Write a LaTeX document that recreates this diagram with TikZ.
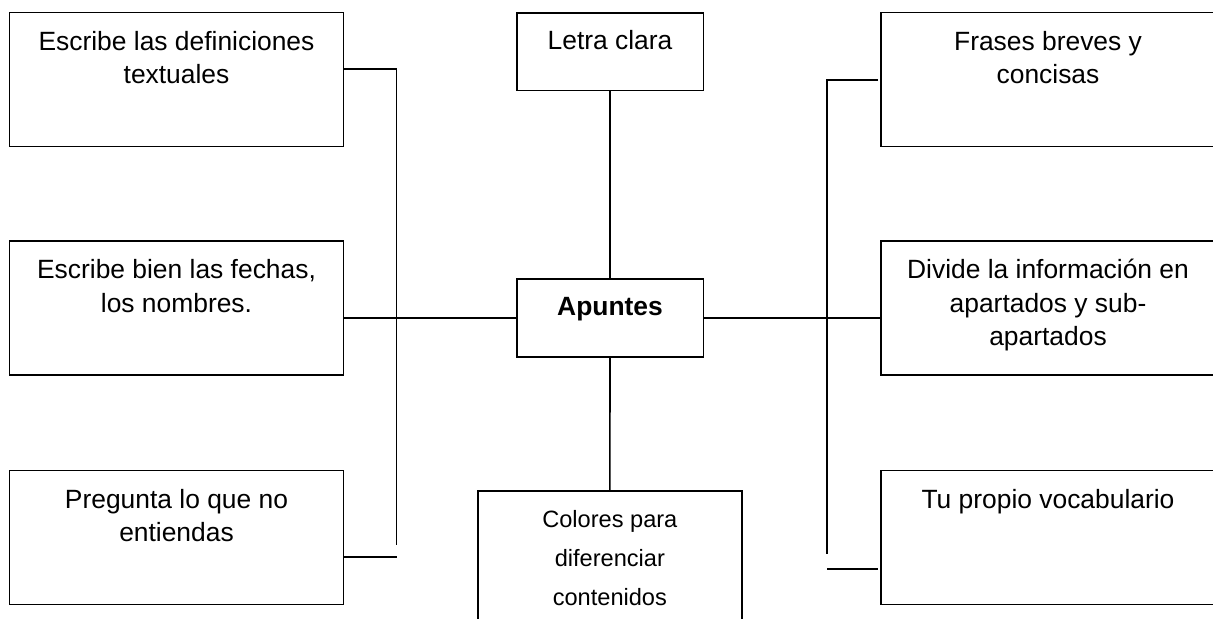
\documentclass[tikz,border=0pt]{standalone}
\usepackage{fontspec}
\setmainfont{Liberation Sans}
\begin{document}
\begin{tikzpicture}[x=0.5pt,y=-0.5pt,
  box/.style={draw, line width=0.8pt, inner sep=0pt, outer sep=0pt, anchor=north west},
  sidebox/.style={box, minimum width=167pt, minimum height=67pt},
  lbl/.style={anchor=north, inner sep=0pt, align=center, font=\fontsize{13.2}{16.7}\selectfont},
  lblwide/.style={anchor=north, inner sep=0pt, align=center, font=\fontsize{11.8}{19.5}\selectfont},
  conn/.style={line width=0.8pt}]
\useasboundingbox (0,0) rectangle (1213,619);
\clip (0,0) rectangle (1213,619);
% left boxes
\node[sidebox] (L1) at (9.5,12.7) {};
\node[sidebox] (L2) at (9.5,241.2) {};
\node[sidebox] (L3) at (9.5,470.6) {};
% right boxes
\node[sidebox] (R1) at (881,12.7) {};
\node[sidebox] (R2) at (881,241.2) {};
\node[sidebox] (R3) at (881,470.6) {};
% centre boxes
\node[box, minimum width=93.3pt, minimum height=38.7pt] (LC) at (516.7,13.3) {};
\node[box, minimum width=93.3pt, minimum height=39pt] (Ap) at (516.7,279) {};
\node[box, minimum width=131.85pt, minimum height=80pt] (Col) at (478,491) {};
% texts
\node[lbl] (tL1) at ([yshift=-6.95pt]L1.north) {\strut Escribe las definiciones\\textuales};
\node[lbl] (tL2) at ([yshift=-6.95pt]L2.north) {\strut Escribe bien las fechas,\\los nombres.};
\node[lbl] (tL3) at ([yshift=-6.95pt]L3.north) {\strut Pregunta lo que no\\entiendas};
\node[lbl] (tR1) at ([yshift=-6.95pt]R1.north) {\strut Frases breves y\\concisas};
\node[lbl] (tR2) at ([yshift=-6.95pt]R2.north) {\strut Divide la información en\\apartados y sub-\\apartados};
\node[lbl] (tR3) at ([yshift=-6.95pt]R3.north) {\strut Tu propio vocabulario};
\node[lbl] (tLC) at ([yshift=-6.3pt]LC.north) {\strut Letra clara};
\node[lbl] (tAp) at ([yshift=-6.3pt]Ap.north) {\strut\textbf{Apuntes}};
\node[lblwide] (tCol) at ([yshift=-4.2pt]Col.north) {\strut Colores para\\diferenciar\\contenidos};
% left connectors
\coordinate (lTop) at (396.5,69);
\coordinate (lEnd) at (396.5,545);
\coordinate (lBot) at (396.5,557);
\draw[conn] (L1.east |- lTop) -- (lTop) -- (lEnd);
\draw[conn] (L3.east |- lBot) -- (lBot);
\draw[conn] (L2.east |- Ap.west) -- (Ap.west);
% right connectors
\coordinate (rTop) at (827,80);
\coordinate (rTopE) at (878,80);
\coordinate (rEnd) at (827,554);
\coordinate (rBot) at (827,569);
\coordinate (rBotE) at (878,569);
\draw[conn] (rTopE) -- (rTop) -- (rEnd);
\draw[conn] (rBot) -- (rBotE);
\draw[conn] (Ap.east) -- (R2.west |- Ap.east);
% centre connectors
\draw[conn] (LC.south) -- (Ap.north);
\draw[conn] (Ap.south) -- (Col.north);
\end{tikzpicture}
\end{document}
